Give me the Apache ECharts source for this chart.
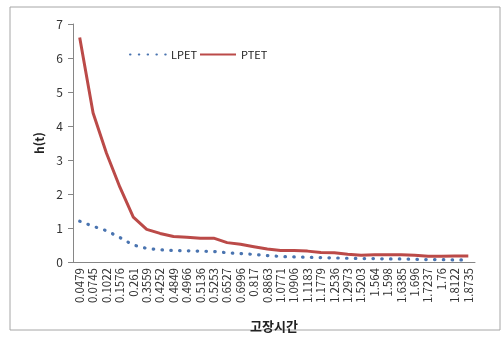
<!DOCTYPE html>
<html lang="ko">
<head>
    <meta charset="UTF-8">
    <title>h(t)</title>
    <script src="https://cdn.jsdelivr.net/npm/echarts@6/dist/echarts.min.js"></script>
    <style>
        html, body { margin: 0; padding: 0; background: #fff; }
    </style>
</head>
<body>
<div id="main" style="width: 504px;height:361px;"></div>
<script type="text/javascript">
    // 고장시간 (x축 범주)
    var times = ['0.0479', '0.0745', '0.1022', '0.1576', '0.261', '0.3559', '0.4252', '0.4849', '0.4966', '0.5136',
        '0.5253', '0.6527', '0.6996', '0.817', '0.8863', '1.0771', '1.0906', '1.1183', '1.1779', '1.2536',
        '1.2973', '1.5203', '1.564', '1.598', '1.6385', '1.696', '1.7237', '1.76', '1.8122', '1.8735'];
    var lpet = [1.2, 1.05, 0.92, 0.72, 0.5, 0.4, 0.36, 0.34, 0.33, 0.32,
        0.31, 0.27, 0.25, 0.22, 0.19, 0.16, 0.15, 0.14, 0.13, 0.12,
        0.11, 0.1, 0.1, 0.09, 0.09, 0.08, 0.07, 0.07, 0.06, 0.06];
    var ptet = [6.6, 4.38, 3.2, 2.2, 1.32, 0.96, 0.84, 0.75, 0.73, 0.7,
        0.7, 0.57, 0.52, 0.45, 0.38, 0.34, 0.34, 0.32, 0.28, 0.27,
        0.23, 0.2, 0.21, 0.21, 0.21, 0.2, 0.17, 0.17, 0.18, 0.18];
    var yTicks = [0, 1, 2, 3, 4, 5, 6, 7];

    var myChart = echarts.init(document.getElementById('main'));
    var option = {
        animation: false,
        textStyle: { fontFamily: 'Noto Sans CJK KR, DejaVu Sans, sans-serif' },
        graphic: [{
            type: 'rect',
            shape: { x: 10, y: 7, width: 490, height: 323 },
            style: { fill: 'none', stroke: '#a6a6a6', lineWidth: 1 }
        }],
        legend: {
            left: 124,
            top: 44,
            itemWidth: 36,
            itemHeight: 10,
            itemGap: 2,
            itemStyle: { opacity: 0 },
            textStyle: { fontSize: 11, color: '#222' },
            data: ['LPET', 'PTET']
        },
        grid: {
            left: 73,
            right: 29,
            top: 24,
            bottom: 99
        },
        xAxis: {
            type: 'category',
            data: times,
            boundaryGap: true,
            name: '고장시간',
            nameLocation: 'middle',
            nameGap: 58,
            nameTextStyle: { fontSize: 13, fontWeight: 'bold', color: '#222' },
            axisLine: { lineStyle: { color: '#868686' } },
            axisTick: { show: false },
            axisLabel: { rotate: 90, interval: 0, fontSize: 11.5, color: '#333', margin: 6 }
        },
        yAxis: {
            type: 'value',
            min: yTicks[0],
            max: yTicks[yTicks.length - 1],
            interval: 1,
            name: 'h(t)',
            nameLocation: 'middle',
            nameGap: 28,
            nameRotate: 90,
            nameTextStyle: { fontSize: 12, fontWeight: 'bold', color: '#222' },
            axisLine: { show: true, lineStyle: { color: '#868686' } },
            axisTick: { show: true, inside: false, length: 5, lineStyle: { color: '#868686' } },
            axisLabel: { fontSize: 12, color: '#333', margin: 10 },
            splitLine: { show: false }
        },
        series: [
            {
                name: 'LPET',
                type: 'line',
                data: lpet,
                symbol: 'none',
                lineStyle: { color: '#4a74b0', width: 3.2, type: [0.5, 8.3], cap: 'round' },
                itemStyle: { color: '#4a74b0' }
            },
            {
                name: 'PTET',
                type: 'line',
                data: ptet,
                symbol: 'none',
                lineStyle: { color: '#bb4a48', width: 3 },
                itemStyle: { color: '#bb4a48' }
            }
        ]
    };
    myChart.setOption(option);
</script>
</body>
</html>
